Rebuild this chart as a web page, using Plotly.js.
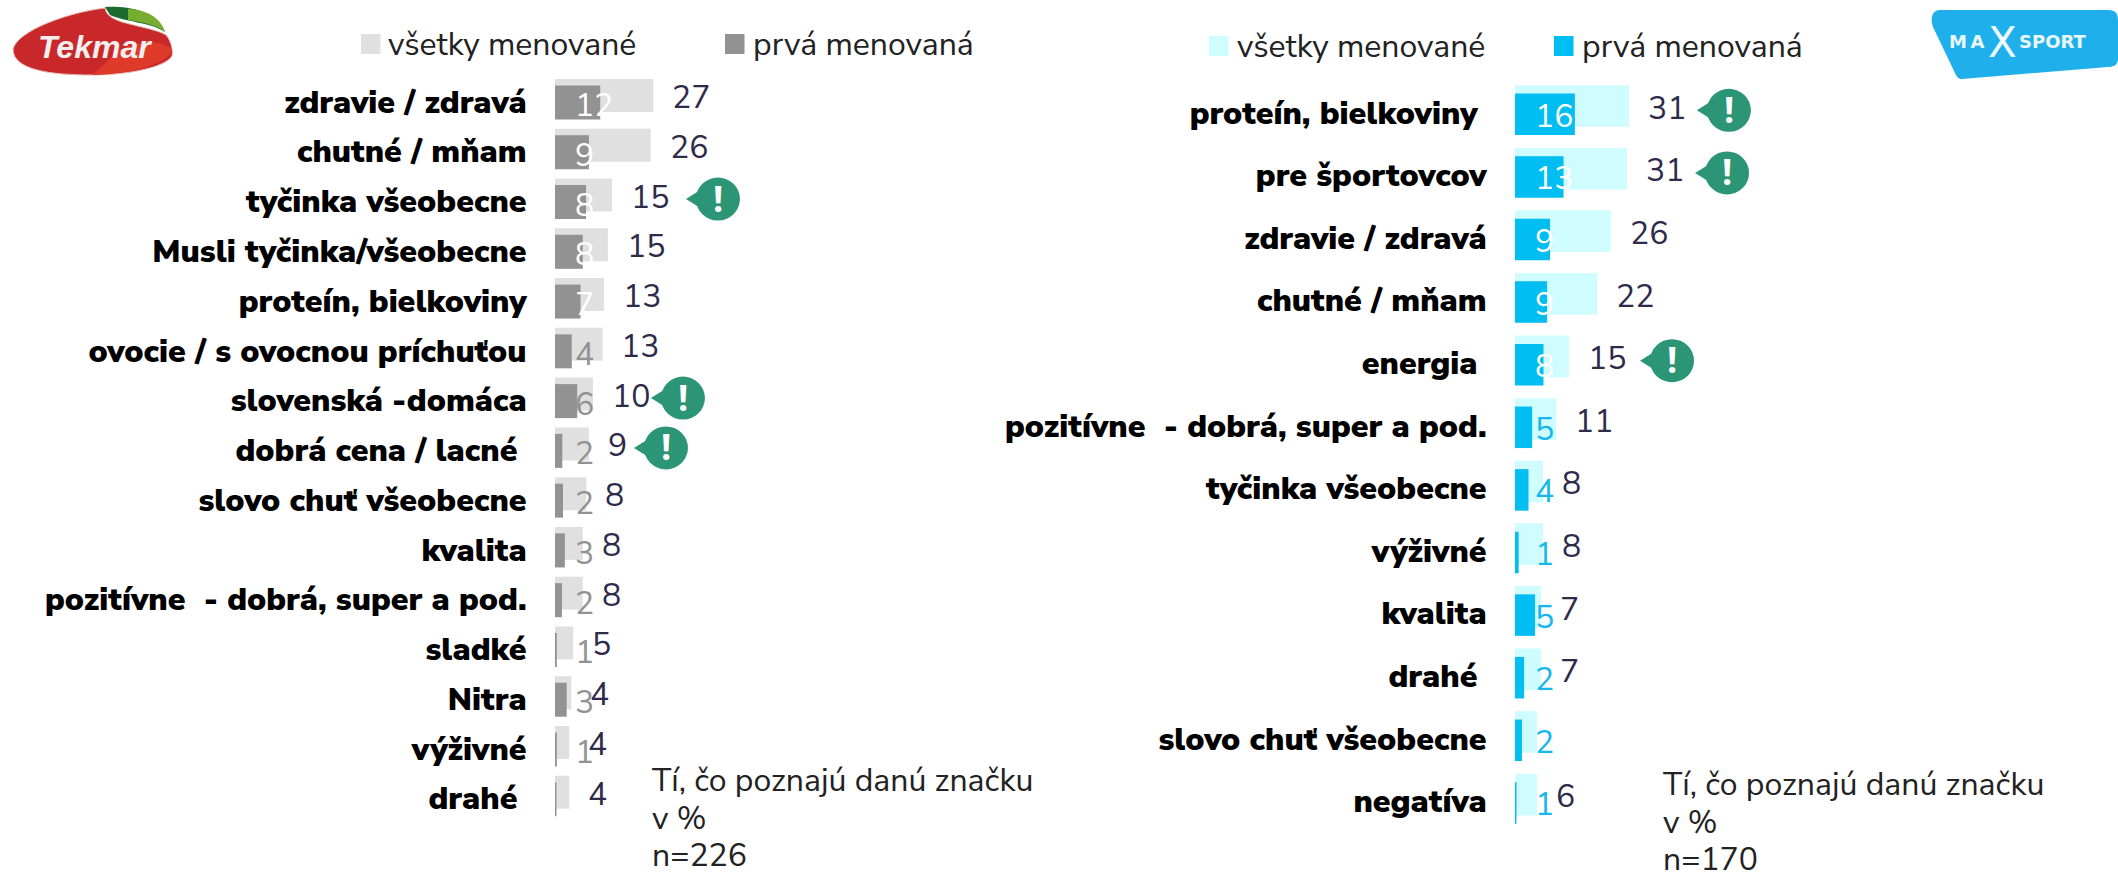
<!DOCTYPE html>
<html><head><meta charset="utf-8">
<script src="https://cdn.plot.ly/plotly-3.0.1.min.js"></script>
<style>html,body{margin:0;padding:0;background:#fff}#c{width:2118px;height:873px}</style>
</head><body><div id="c"></div>
<script>
const NB='\u00a0';
// Tekmar panel
const tekmarCategories=['zdravie / zdravá','chutné / mňam','tyčinka všeobecne','Musli tyčinka/všeobecne','proteín, bielkoviny','ovocie / s ovocnou príchuťou','slovenská -domáca','dobrá cena / lacné'+NB,'slovo chuť všeobecne','kvalita','pozitívne'+NB+NB+'- dobrá, super a pod.','sladké','Nitra','výživné','drahé'+NB];
const tekmarAll=[26.9,26.2,15.6,14.5,13.4,13.0,10.4,9.3,8.6,7.6,7.6,5.0,4.5,3.9,3.9];
const tekmarFirst=[12.4,9.3,8.5,7.6,7.0,4.6,6.1,2.0,2.2,2.7,1.9,0.5,3.2,0.5,0.4];
const tekmarAllLabels=['27','26','15','15','13','13','10','9','8','8','8','5','4','4','4'];
const tekmarFirstLabels=['12','9','8','8','7','4','6','2','2','3','2','1','3','1',''];
// MaxSport panel
const maxCategories=['proteín, bielkoviny'+NB,'pre športovcov','zdravie / zdravá','chutné / mňam','energia'+NB,'pozitívne'+NB+NB+'- dobrá, super a pod.','tyčinka všeobecne','výživné','kvalita','drahé'+NB,'slovo chuť všeobecne','negatíva'];
const maxAll=[31.2,30.7,26.2,22.5,14.8,11.3,7.7,7.7,7.2,7.2,6.0,6.0];
const maxFirst=[16.4,13.3,9.6,8.8,7.8,4.7,3.7,1.0,5.5,2.5,1.9,0.4];
const maxAllLabels=['31','31','26','22','15','11','8','8','7','7','','6'];
const maxFirstLabels=['16','13','9','9','8','5','4','1','5','2','2','1'];
// callouts: row, pixel distance from the end of the bar to the centre of the bubble
const tekmarCallouts=[[2,106],[6,90],[7,77]];
const maxCallouts=[[0,100],[1,100],[4,103]];
const noteLines=['Tí, čo poznajú danú značku','v %'];
const legendAll='všetky menované', legendFirst='prvá menovaná';

const W=2118,H=873,F='"Nunito Sans","Open Sans","Noto Sans",sans-serif';
const px=x=>x/W, py=y=>1-y/H;
const SCALE=3.65;
const panels=[
 {xa:'x',ya:'y',xn:'xaxis',yn:'yaxis',x0:555,x1:1045,rowTop:76.6,rowH:49.77,cats:tekmarCategories,all:tekmarAll,first:tekmarFirst,allL:tekmarAllLabels,firstL:tekmarFirstLabels,call:tekmarCallouts,cAll:'#e0e0e0',cFirst:'#929292',cIn:'#929292',nWhite:5,fh:34,ah:33,off:-6,fo:1},
 {xa:'x2',ya:'y2',xn:'xaxis2',yn:'yaxis2',x0:1515,x1:2005,rowTop:81,rowH:62.6,cats:maxCategories,all:maxAll,first:maxFirst,allL:maxAllLabels,firstL:maxFirstLabels,call:maxCallouts,cAll:'#cffcff',cFirst:'#00bdf2',cIn:'#16b6ee',nWhite:5,fh:41.5,ah:41.7,off:-6.3,fo:2}
];
const traces=[],annotations=[],shapes=[],layout={};
const ann=(o)=>annotations.push(Object.assign({showarrow:false,xref:'paper',yref:'paper'},o));
panels.forEach(p=>{
  const n=p.cats.length, rows=p.cats.map((_,i)=>i);
  const fw=p.fh/p.rowH, aw=p.ah/p.rowH;
  traces.push({type:'bar',orientation:'h',xaxis:p.xa,yaxis:p.ya,x:p.all,y:rows,width:aw,offset:(p.off-p.ah/2)/p.rowH,marker:{color:p.cAll,line:{width:0}},hoverinfo:'skip',showlegend:false});
  traces.push({type:'bar',orientation:'h',xaxis:p.xa,yaxis:p.ya,x:p.first,y:rows,width:fw,offset:(p.fo-p.fh/2)/p.rowH,marker:{color:p.cFirst,line:{width:0}},hoverinfo:'skip',showlegend:false});
  layout[p.xn]={domain:[px(p.x0),px(p.x1)],range:[0,(p.x1-p.x0)/SCALE],visible:false,fixedrange:true,anchor:p.ya};
  layout[p.yn]={domain:[py(p.rowTop+n*p.rowH),py(p.rowTop)],range:[n-0.5,-0.5],anchor:p.xa,tickmode:'array',tickvals:rows,ticktext:p.cats,
    showgrid:false,zeroline:false,showline:false,ticks:'outside',ticklen:21,tickcolor:'rgba(0,0,0,0)',
    tickfont:{family:F,size:32,color:'#000',weight:900},automargin:false};
  rows.forEach(i=>{
    if(p.allL[i]) annotations.push({xref:p.xa,yref:p.ya,x:p.all[i],y:i,xanchor:'left',xshift:17,yshift:4,text:p.allL[i],showarrow:false,font:{family:F,size:32,color:'#2e2a4a'}});
    if(p.firstL[i]) annotations.push({xref:p.xa,yref:p.ya,x:0,y:i,xanchor:'left',xshift:18,yshift:-4,text:p.firstL[i],showarrow:false,font:{family:F,size:32,color:i<p.nWhite?'#fff':p.cIn}});
  });
  p.call.forEach(([r,d])=>{
    const base={xref:p.xa,yref:p.ya,xsizemode:'pixel',ysizemode:'pixel',xanchor:p.all[r],yanchor:r,line:{width:0},fillcolor:'#2b9575',layer:'above'};
    const c=2; // bubble centre above the row centre
    shapes.push(Object.assign({},base,{type:'circle',x0:d-22,x1:d+22,y0:c-21.5,y1:c+21.5}));
    shapes.push(Object.assign({},base,{type:'path',path:`M ${d-32} ${c} L ${d-16} ${c+10} L ${d-16} ${c-10} Z`}));
    annotations.push({xref:p.xa,yref:p.ya,x:p.all[r],y:r,xshift:d,yshift:c+1,text:'<b>!</b>',showarrow:false,font:{family:'"Open Sans",sans-serif',size:36,color:'#fff'}});
  });
});
// legends
function legend(xa,ya,xb,yb,cA,cB,yc){
  [[xa,cA],[xb,cB]].forEach(([x,c])=>shapes.push({type:'rect',xref:'paper',yref:'paper',x0:px(x),x1:px(x+19.5),y0:py(yc+10),y1:py(yc-10),fillcolor:c,line:{width:0}}));
  ann({x:px(ya),y:py(yc),xanchor:'left',yanchor:'middle',text:legendAll,font:{family:F,size:32,color:'#222'}});
  ann({x:px(yb),y:py(yc),xanchor:'left',yanchor:'middle',text:legendFirst,font:{family:F,size:32,color:'#222'}});
}
legend(361,386,725,751,'#e0e0e0','#929292',44);
legend(1209,1234.5,1554,1579.5,'#cffcff','#00bdf2',46);
// notes
function note(x,ys,n){ noteLines.concat(['n='+n]).forEach((t,i)=>ann({x:px(x),y:py(ys[i]),xanchor:'left',yanchor:'middle',text:t,font:{family:F,size:32,color:'#222'}})); }
note(650,[780,818,855],226);
note(1661,[784,822,859],170);
// clipped heading at the very top
ann({x:px(1103),y:py(-16),xanchor:'center',yanchor:'middle',text:'Zobrazené len asociácie nad 4%',font:{family:F,size:32,color:'#222'}});
// Tekmar logo
const P=(s)=>s.replace(/(-?[\d.]+) (-?[\d.]+)/g,(m,a,b)=>px(+a).toFixed(5)+' '+py(+b).toFixed(5));
const logoShape=(path,c,line)=>shapes.push({type:'path',xref:'paper',yref:'paper',path:P(path),fillcolor:c,line:line||{width:0}});
logoShape('M 13 49 C 18 30 70 12 105 8 C 106 14 110 18 122 22 C 140 27 158 30 166 35 C 172 42 173 52 172 56 C 165 68 125 75 92 75 C 50 75 13 70 13 49 Z','#c9282b',{width:1,color:'#e6b9b0'});
logoShape('M 120 50 C 140 40 165 40 172 50 C 170 62 135 74 92 75 C 100 70 110 58 120 50 Z','#de3a2a');
logoShape('M 105 7 C 125 6 155 9 165 32 C 150 22 125 22 110 15 Z','#1c6a30');
logoShape('M 128 9 C 145 10 160 16 165 32 C 155 24 140 22 128 20 Z','#76ad2e');
ann({x:px(95),y:py(47),xanchor:'center',yanchor:'middle',text:'<b><i>Tekmar</i></b>',font:{family:'"Liberation Sans",sans-serif',size:32,color:'#f4eeee'}});
// MaxSport logo
logoShape('M 1939 10 L 2108 10 C 2116 10 2118 14 2118 20 L 2118 60 C 2117 65 2114 67 2108 67 L 1962 79 C 1958 79 1957 77 1955 73 L 1933 27 C 1930 18 1932 11 1939 10 Z','#1fb0ec');
const TS='\u2009';
ann({x:px(1987),y:py(41),xanchor:'right',yanchor:'middle',text:'<b>M'+TS+'A</b>',font:{family:'"DejaVu Sans",sans-serif',size:18,color:'#e8f8fe'}});
ann({x:px(2002),y:py(42),xanchor:'center',yanchor:'middle',text:'X',font:{family:'"DejaVu Sans",sans-serif',size:42,color:'#eefaff'}});
ann({x:px(2017),y:py(41),xanchor:'left',yanchor:'middle',text:'<b>'+['S','P','O','R','T'].join('')+'</b>',font:{family:'"DejaVu Sans",sans-serif',size:18,color:'#e8f8fe'}});

Object.assign(layout,{width:W,height:H,margin:{l:0,r:0,t:0,b:0,pad:0},paper_bgcolor:'#fff',plot_bgcolor:'#fff',barmode:'overlay',showlegend:false,annotations,shapes,font:{family:F}});
Plotly.newPlot('c',traces,layout,{displayModeBar:false,staticPlot:true});
</script></body></html>
